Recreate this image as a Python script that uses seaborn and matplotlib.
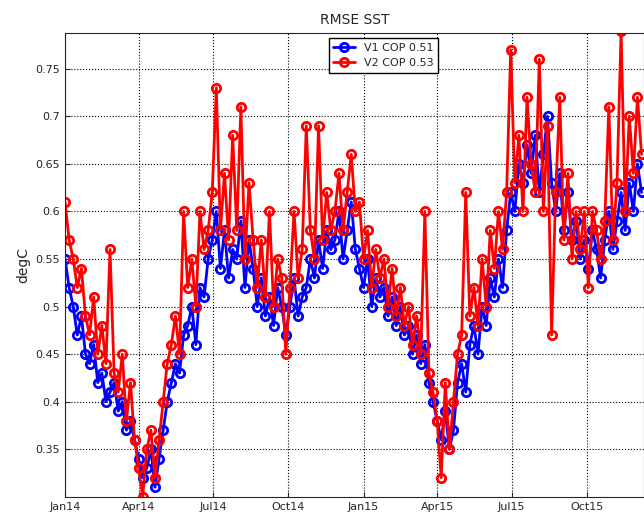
import matplotlib
matplotlib.use('Agg')
import matplotlib.pyplot as plt
import matplotlib.dates as mdates
import seaborn as sns
import pandas as pd
import numpy as np

sns.set_style('ticks')
plt.rcParams['font.family'] = ['DejaVu Sans']

v1 = [0.55,0.52,0.50,0.47,0.49,0.45, 0.44,0.46,0.42,0.43,0.40,0.41,
      0.42,0.39,0.40,0.37,0.38,0.36, 0.34,0.32,0.33,0.35,0.31,0.34,
      0.37,0.40,0.42,0.44,0.43,0.47, 0.48,0.50,0.46,0.52,0.51,0.55,
      0.57,0.60,0.54,0.58,0.53,0.56, 0.55,0.59,0.52,0.57,0.54,0.50,
      0.53,0.49,0.51,0.48,0.52,0.50, 0.47,0.50,0.53,0.49,0.51,0.52,
      0.55,0.53,0.57,0.54,0.58,0.56, 0.57,0.60,0.55,0.58,0.61,0.56,
      0.54,0.52,0.55,0.50,0.53,0.51, 0.52,0.49,0.51,0.48,0.50,0.47,
      0.48,0.45,0.47,0.44,0.46,0.42, 0.40,0.38,0.36,0.39,0.35,0.37,
      0.42,0.44,0.41,0.46,0.48,0.45, 0.50,0.48,0.53,0.51,0.55,0.52,
      0.58,0.62,0.60,0.65,0.63,0.67, 0.64,0.68,0.62,0.66,0.70,0.63,
      0.60,0.64,0.58,0.62,0.57,0.59, 0.55,0.57,0.54,0.58,0.56,0.53,
      0.57,0.60,0.56,0.59,0.62,0.58, 0.63,0.60,0.65,0.62]
v2 = [0.61,0.57,0.55,0.52,0.54,0.49, 0.47,0.51,0.45,0.48,0.44,0.56,
      0.43,0.41,0.45,0.38,0.42,0.36, 0.33,0.30,0.35,0.37,0.32,0.36,
      0.40,0.44,0.46,0.49,0.45,0.60, 0.52,0.55,0.50,0.60,0.56,0.58,
      0.62,0.73,0.58,0.64,0.57,0.68, 0.58,0.71,0.55,0.63,0.57,0.52,
      0.57,0.51,0.60,0.50,0.55,0.53, 0.45,0.52,0.60,0.53,0.56,0.69,
      0.58,0.55,0.69,0.57,0.62,0.58, 0.60,0.64,0.58,0.62,0.66,0.60,
      0.61,0.55,0.58,0.52,0.56,0.53, 0.55,0.50,0.54,0.49,0.52,0.48,
      0.50,0.46,0.49,0.45,0.60,0.43, 0.41,0.38,0.32,0.42,0.35,0.40,
      0.45,0.47,0.62,0.49,0.52,0.48, 0.55,0.50,0.58,0.54,0.60,0.56,
      0.62,0.77,0.63,0.68,0.60,0.72, 0.65,0.62,0.76,0.60,0.69,0.47,
      0.62,0.72,0.57,0.64,0.55,0.60, 0.56,0.60,0.52,0.60,0.58,0.55,
      0.59,0.71,0.57,0.63,0.79,0.60, 0.70,0.64,0.72,0.66]
dates = pd.date_range('2014-01-01', periods=len(v1), freq='5D')

fig = plt.figure(figsize=(6.44, 5.18), dpi=100)
ax = fig.add_axes([0.101, 0.041, 0.899, 0.896])
for vals, col, lab in [(v1, '#0000ff', 'V1 COP 0.51'), (v2, '#ff0000', 'V2 COP 0.53')]:
    sns.lineplot(x=dates, y=vals, color=col, label=lab, ax=ax,
                 marker='o', markersize=6, markerfacecolor='none',
                 markeredgecolor=col, markeredgewidth=2, linewidth=2)
ax.set_xlim(pd.Timestamp('2014-01-01'), pd.Timestamp('2015-12-10'))
ax.set_ylim(0.30, 0.788)
ax.set_yticks(np.arange(0.35, 0.76, 0.05))
ax.set_yticklabels(['0.35', '0.4', '0.45', '0.5', '0.55', '0.6', '0.65', '0.7', '0.75'])
ax.xaxis.set_major_locator(mdates.MonthLocator(bymonth=[1, 4, 7, 10]))
ax.xaxis.set_major_formatter(mdates.DateFormatter('%b%y'))
ax.tick_params(labelsize=8, direction='in')
ax.grid(True, color='black', linestyle=':', linewidth=0.8)
ax.set_xlabel('')
ax.set_ylabel('degC', fontsize=10)
ax.set_title('RMSE SST', fontsize=10)
ax.legend(loc='upper center', bbox_to_anchor=(0.55, 1.0), fontsize=8, frameon=True,
          fancybox=False, edgecolor='black', framealpha=1)
fig.savefig('out.png', dpi=100)
